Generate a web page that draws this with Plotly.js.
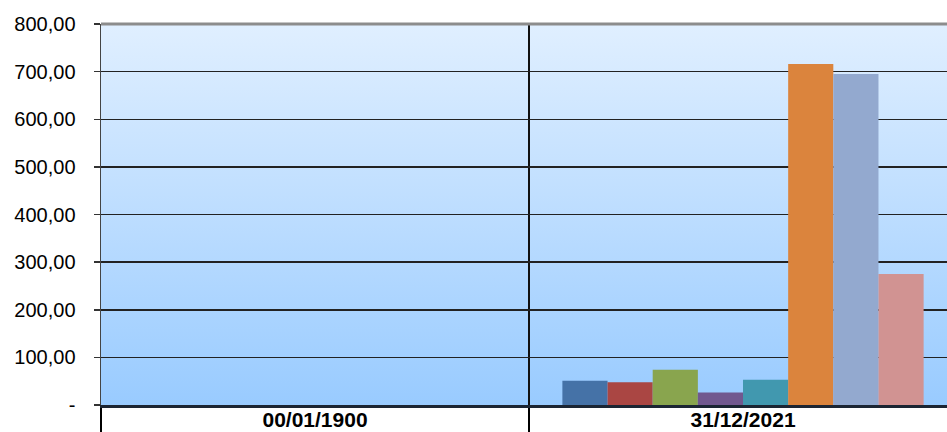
<!DOCTYPE html>
<html>
<head>
<meta charset="utf-8">
<script src="https://cdn.plot.ly/plotly-3.0.1.min.js"></script>
<style>
  html, body { margin: 0; padding: 0; background: #ffffff; }
  #chart { width: 947px; height: 432px; }
</style>
</head>
<body>
<div id="chart"></div>
<script>
// ---- data ----
const categories = ["00/01/1900", "31/12/2021"];
const seriesNames = ["Série 1", "Série 2", "Série 3", "Série 4", "Série 5", "Série 6", "Série 7", "Série 8"];
const series1 = [0, 51];
const series2 = [0, 48];
const series3 = [0, 74];
const series4 = [0, 26];
const series5 = [0, 53];
const series6 = [0, 716];
const series7 = [0, 695];
const series8 = [0, 275];
const yTickVals = [0, 100, 200, 300, 400, 500, 600, 700, 800];
const yTickText = ["-", "100,00", "200,00", "300,00", "400,00", "500,00", "600,00", "700,00", "800,00"];

const allSeries = [series1, series2, series3, series4, series5, series6, series7, series8];
const colors = ["#4572A7", "#AA4643", "#89A54E", "#71588F", "#4198AF", "#DB843D", "#93A9CF", "#D19392"];

const traces = allSeries.map((vals, i) => ({
  type: "bar",
  x: categories,
  y: vals,
  name: seriesNames[i],
  marker: { color: colors[i], line: { width: 0 } },
  hoverinfo: "x+y+name"
}));

const gradSvg =
  '<svg xmlns="http://www.w3.org/2000/svg" width="10" height="100" preserveAspectRatio="none">' +
  '<defs><linearGradient id="g" x1="0" y1="0" x2="0" y2="1">' +
  '<stop offset="0" stop-color="#E0EFFF"/><stop offset="1" stop-color="#99CBFF"/>' +
  '</linearGradient></defs><rect width="10" height="100" fill="url(#g)"/></svg>';

const layout = {
  width: 947,
  height: 432,
  margin: { l: 101, r: 0, t: 24, b: 27, pad: 0 },
  paper_bgcolor: "#ffffff",
  plot_bgcolor: "rgba(0,0,0,0)",
  showlegend: false,
  barmode: "group",
  bargap: 0.156,
  bargroupgap: 0,
  font: { family: "Liberation Sans, Arial, sans-serif", color: "#000000" },
  images: [{
    source: "data:image/svg+xml;charset=utf-8," + encodeURIComponent(gradSvg),
    xref: "paper", yref: "paper",
    x: 0, y: 1, sizex: 1, sizey: 1,
    sizing: "stretch", layer: "below",
    xanchor: "left", yanchor: "top"
  }],
  xaxis: {
    type: "category",
    range: [-0.5, 1.4766],
    tickson: "boundaries",
    ticks: "outside",
    ticklen: 27,
    tickwidth: 1.5,
    tickcolor: "#000000",
    showgrid: true,
    gridcolor: "#111111",
    gridwidth: 1.5,
    showline: true,
    linecolor: "#1b2533",
    linewidth: 2.5,
    ticklabelstandoff: -6,
    tickfont: { family: "Liberation Sans, Arial, sans-serif", size: 21, color: "#000000", weight: "bold" },
    automargin: false,
    fixedrange: true
  },
  yaxis: {
    range: [0, 800],
    tickvals: yTickVals,
    ticktext: yTickText,
    ticks: "outside",
    ticklen: 6,
    tickwidth: 1.5,
    tickcolor: "#333333",
    showgrid: true,
    gridcolor: "#222222",
    gridwidth: 1.5,
    zeroline: false,
    showline: true,
    linecolor: "#444444",
    linewidth: 1.5,
    ticklabelstandoff: 14,
    tickfont: { family: "Liberation Sans, Arial, sans-serif", size: 20, color: "#000000" },
    automargin: false,
    fixedrange: true
  },
  shapes: [{
    type: "line", xref: "paper", yref: "paper",
    x0: 0, x1: 1, y0: 1, y1: 1,
    line: { color: "#8c8c8c", width: 3 },
    layer: "above"
  }]
};

Plotly.newPlot("chart", traces, layout, { staticPlot: true, displayModeBar: false });
</script>
</body>
</html>
